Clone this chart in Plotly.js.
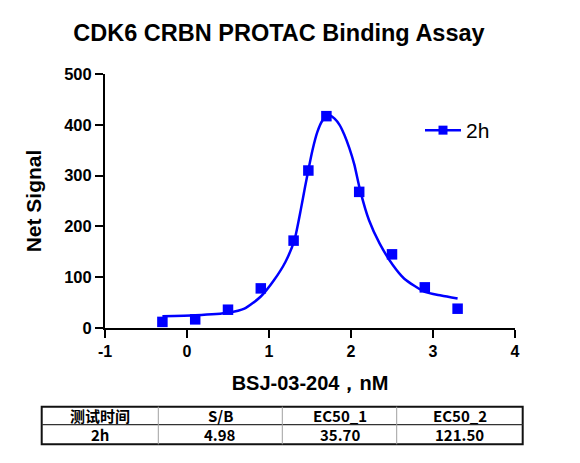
<!DOCTYPE html>
<html>
<head>
<meta charset="utf-8">
<script src="https://cdn.plot.ly/plotly-3.0.1.min.js"></script>
<style>html,body{margin:0;padding:0;background:#fff;}#chart{width:580px;height:463px;}</style>
</head>
<body>
<div id="chart"></div>
<script>
// ---- data ----
const seriesName = '2h';
const logConc = [-0.30, 0.10, 0.50, 0.90, 1.30, 1.48, 1.70, 2.10, 2.50, 2.90, 3.30];
const netSignal = [12, 17, 36, 78, 172, 310, 417, 268, 145, 80, 38];
// fitted curve
const fitX = [-0.30, 0.10, 0.50, 0.70, 0.90, 1.06, 1.20, 1.31, 1.39, 1.44, 1.48, 1.53, 1.59, 1.65, 1.70, 1.75, 1.80, 1.86, 1.92, 1.98, 2.04, 2.11, 2.22, 2.35, 2.51, 2.65, 2.90, 3.10, 3.30];
const fitY = [23, 25, 30, 38, 62, 94, 130, 173, 235, 278, 311, 350, 386, 408, 416, 418, 412, 400, 380, 354, 322, 272, 212, 166, 124, 97, 71, 64, 58];
const xTicks = [-1, 0, 1, 2, 3, 4];
const yTicks = [0, 100, 200, 300, 400, 500];
const tableHeader = ['测试时间', 'S/B', 'EC50_1', 'EC50_2'];
const tableRow = ['2h', '4.98', '35.70', '121.50'];

// ---- layout helpers (pixel -> paper) ----
const W = 580, H = 463;
const M = {l: 105, r: 65, t: 74, b: 135};
const pw = W - M.l - M.r, ph = H - M.t - M.b;
const px = v => (v - M.l) / pw;
const py = v => (H - M.b - v) / ph;

const blue = '#0000FF';
const fontFam = 'Arial, "Liberation Sans", sans-serif';
const tblFam = '"Noto Sans CJK SC", "Microsoft YaHei", Arial, sans-serif';

const traces = [
  {x: fitX, y: fitY, mode: 'lines', type: 'scatter', line: {color: blue, width: 2.5, shape: 'spline', smoothing: 0.6},
   showlegend: false, hoverinfo: 'skip'},
  {x: logConc, y: netSignal, mode: 'markers', type: 'scatter', name: seriesName,
   marker: {symbol: 'square', size: 10.5, color: blue}, showlegend: false},
  // legend entry (line + marker)
  {x: [null], y: [null], mode: 'lines+markers', type: 'scatter', name: seriesName,
   line: {color: blue, width: 2.5}, marker: {symbol: 'square', size: 9, color: blue}, showlegend: true}
];

// table built from shapes + annotations
const colEdges = [41.7, 158.3, 282.3, 396.7, 522.7];
const rowEdges = [406.7, 424.7, 444.3];
const shapes = [
  {type: 'rect', xref: 'paper', yref: 'paper', x0: px(colEdges[0]), x1: px(colEdges[4]), y0: py(rowEdges[0]), y1: py(rowEdges[2]),
   line: {color: '#111', width: 2}, layer: 'above'},
  {type: 'line', xref: 'paper', yref: 'paper', x0: px(colEdges[0]), x1: px(colEdges[4]), y0: py(rowEdges[1]), y1: py(rowEdges[1]),
   line: {color: '#333', width: 1.2}, layer: 'above'}
];
for (let i = 1; i < 4; i++) {
  shapes.push({type: 'line', xref: 'paper', yref: 'paper', x0: px(colEdges[i]), x1: px(colEdges[i]), y0: py(rowEdges[0]), y1: py(rowEdges[2]),
    line: {color: '#a0a0a0', width: 1}, layer: 'above'});
}
const annotations = [];
[tableHeader, tableRow].forEach((row, r) => {
  row.forEach((txt, c) => {
    annotations.push({xref: 'paper', yref: 'paper', x: px((colEdges[c] + colEdges[c + 1]) / 2), y: py((rowEdges[r] + rowEdges[r + 1]) / 2),
      text: txt, showarrow: false, xanchor: 'center', yanchor: 'middle',
      font: {family: tblFam, size: 15, color: '#000', weight: 'bold'}});
  });
});

const layout = {
  width: W, height: H,
  margin: M,
  paper_bgcolor: '#fff', plot_bgcolor: '#fff',
  showlegend: true,
  title: {text: 'CDK6 CRBN PROTAC Binding Assay', x: 279 / W, xanchor: 'center', y: 1 - 33 / H, yanchor: 'middle',
          font: {family: fontFam, size: 23.5, color: '#000', weight: 'bold'}},
  xaxis: {range: [-1, 4], tickvals: xTicks, ticktext: xTicks.map(String), showgrid: false, zeroline: false,
          showline: true, linecolor: '#000', linewidth: 2, ticks: 'outside', ticklen: 8, tickwidth: 2, tickcolor: '#000',
          tickfont: {family: fontFam, size: 16, color: '#000', weight: 'bold'},
          title: {text: 'BSJ-03-204，nM', standoff: 17, font: {family: fontFam, size: 20, color: '#000', weight: 'bold'}}},
  yaxis: {range: [0, 500], tickvals: yTicks, ticktext: yTicks.map(String), showgrid: false, zeroline: false,
          showline: true, linecolor: '#000', linewidth: 2, ticks: 'outside', ticklen: 8, tickwidth: 2, tickcolor: '#000',
          tickfont: {family: fontFam, size: 16.5, color: '#000', weight: 'bold'},
          title: {text: 'Net Signal', standoff: 17, font: {family: fontFam, size: 21, color: '#000', weight: 'bold'}}},
  legend: {x: px(420), y: py(110), xanchor: 'left', yanchor: 'top', bgcolor: 'rgba(0,0,0,0)', itemwidth: 36,
           font: {family: fontFam, size: 21, color: '#000'}},
  shapes: shapes,
  annotations: annotations
};

Plotly.newPlot('chart', traces, layout, {staticPlot: true, displayModeBar: false});
</script>
</body>
</html>
